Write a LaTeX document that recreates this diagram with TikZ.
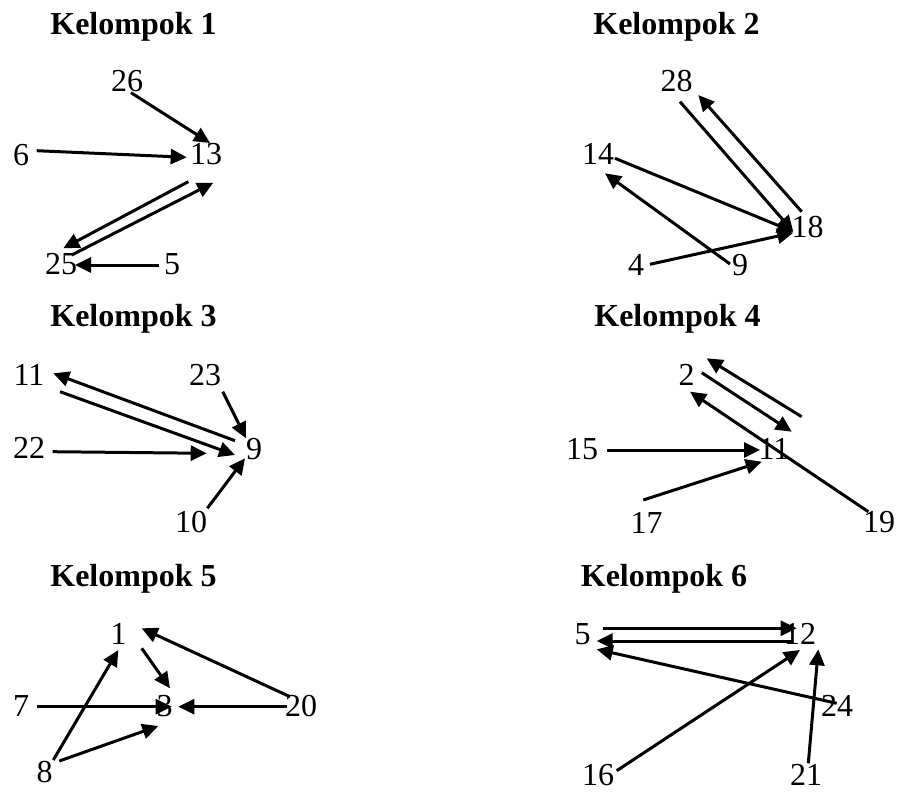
\documentclass[tikz,border=0pt]{standalone}
\usepackage{fontspec}
\setmainfont{Liberation Serif}
\usetikzlibrary{arrows.meta}
\tikzset{
  lbl/.style={inner sep=0pt, anchor=center, font=\fontsize{32}{38}\selectfont},
  ttl/.style={inner sep=0pt, anchor=base, font=\fontsize{32}{38}\selectfont\bfseries},
  arr/.style={line width=3pt, -{Triangle[length=16pt,width=15pt]}},
}
\begin{document}
\begin{tikzpicture}[x=1pt,y=-1pt]
\useasboundingbox (0,0) rectangle (897,792);
% ---------- Kelompok 1 ----------
\node[ttl] (t1) at (133.5,35) {Kelompok 1};
\node[lbl] (g1n26) at (127,81) {26};
\node[lbl] (g1n6) at (21,155) {6};
\node[lbl] (g1n13) at (206,154) {13};
\node[lbl] (g1n25) at (61,264) {25};
\node[lbl] (g1n5) at (172,264) {5};
\coordinate (g1a) at (131,92.7);  \coordinate (g1b) at (210,143);
\coordinate (g1c) at (36.7,150.7); \coordinate (g1d) at (186.7,157.3);
\coordinate (g1e) at (188.3,181.7); \coordinate (g1f) at (63.3,248.3);
\coordinate (g1g) at (71.7,255);  \coordinate (g1h) at (213.3,182.7);
\coordinate (g1i) at (159.3,265); \coordinate (g1j) at (75,265);
\draw[arr] (g1a) -- (g1b);
\draw[arr] (g1c) -- (g1d);
\draw[arr] (g1e) -- (g1f);
\draw[arr] (g1g) -- (g1h);
\draw[arr] (g1i) -- (g1j);
% ---------- Kelompok 2 ----------
\node[ttl] (t2) at (676.5,35) {Kelompok 2};
\node[lbl] (g2n28) at (676.7,81) {28};
\node[lbl] (g2n14) at (598,154) {14};
\node[lbl] (g2n18) at (807.5,227.5) {18};
\node[lbl] (g2n4) at (636,265) {4};
\node[lbl] (g2n9) at (740,265) {9};
\coordinate (g2a) at (680,101.7);   \coordinate (g2b) at (793.3,231.7);
\coordinate (g2c) at (801.7,211.7); \coordinate (g2d) at (698.3,95);
\coordinate (g2e) at (615,158.3);   \coordinate (g2f) at (793.3,231.7);
\coordinate (g2g) at (730,264);     \coordinate (g2h) at (605,173.3);
\coordinate (g2i) at (650,264.3);   \coordinate (g2j) at (793.3,232.7);
\draw[arr] (g2a) -- (g2b);
\draw[arr] (g2c) -- (g2d);
\draw[arr] (g2e) -- (g2f);
\draw[arr] (g2g) -- (g2h);
\draw[arr] (g2i) -- (g2j);
% ---------- Kelompok 3 ----------
\node[ttl] (t3) at (133.5,326.7) {Kelompok 3};
\node[lbl] (g3n11) at (29,375) {11};
\node[lbl] (g3n23) at (205,375) {23};
\node[lbl] (g3n22) at (29,448) {22};
\node[lbl] (g3n9) at (254,449) {9};
\node[lbl] (g3n10) at (191,522.5) {10};
\coordinate (g3a) at (235,440.7);   \coordinate (g3b) at (53.3,373.3);
\coordinate (g3c) at (60,391.7);    \coordinate (g3d) at (235,455);
\coordinate (g3e) at (52.7,451.7);  \coordinate (g3f) at (206.7,453.3);
\coordinate (g3g) at (222.7,391.7); \coordinate (g3h) at (246,438.3);
\coordinate (g3i) at (207.3,508.3); \coordinate (g3j) at (245,458.3);
\draw[arr] (g3a) -- (g3b);
\draw[arr] (g3c) -- (g3d);
\draw[arr] (g3e) -- (g3f);
\draw[arr] (g3g) -- (g3h);
\draw[arr] (g3i) -- (g3j);
% ---------- Kelompok 4 ----------
\node[ttl] (t4) at (677.5,326.7) {Kelompok 4};
\node[lbl] (g4n2) at (686.7,375) {2};
\node[lbl] (g4n15) at (582,449) {15};
\node[lbl] (g4n11) at (774,449) {11};
\node[lbl] (g4n17) at (646.7,522.5) {17};
\node[lbl] (g4n19) at (879,522.5) {19};
\coordinate (g4a) at (801.7,416.7); \coordinate (g4b) at (706.7,358.3);
\coordinate (g4c) at (701.7,372.7); \coordinate (g4d) at (791.7,431.7);
\coordinate (g4e) at (868.3,511.7); \coordinate (g4f) at (690,391.7);
\coordinate (g4g) at (606.7,450);   \coordinate (g4h) at (760,450);
\coordinate (g4i) at (643.3,500);   \coordinate (g4j) at (761.7,461.7);
\draw[arr] (g4a) -- (g4b);
\draw[arr] (g4c) -- (g4d);
\draw[arr] (g4e) -- (g4f);
\draw[arr] (g4g) -- (g4h);
\draw[arr] (g4i) -- (g4j);
% ---------- Kelompok 5 ----------
\node[ttl] (t5) at (133.5,586.7) {Kelompok 5};
\node[lbl] (g5n1) at (118.5,634) {1};
\node[lbl] (g5n7) at (21,706) {7};
\node[lbl] (g5n3) at (164.5,706) {3};
\node[lbl] (g5n20) at (301,706) {20};
\node[lbl] (g5n8) at (44.5,772) {8};
\coordinate (g5a) at (290,696.7);   \coordinate (g5b) at (141.7,628.3);
\coordinate (g5c) at (141.7,648.3); \coordinate (g5d) at (170,688.3);
\coordinate (g5e) at (36.7,706.7);  \coordinate (g5f) at (171.7,706.7);
\coordinate (g5g) at (286.7,706.7); \coordinate (g5h) at (178.3,706.7);
\coordinate (g5i) at (53.3,760);    \coordinate (g5j) at (118.3,650);
\coordinate (g5k) at (59.3,761);    \coordinate (g5l) at (158.3,726);
\draw[arr] (g5a) -- (g5b);
\draw[arr] (g5c) -- (g5d);
\draw[arr] (g5e) -- (g5f);
\draw[arr] (g5g) -- (g5h);
\draw[arr] (g5i) -- (g5j);
\draw[arr] (g5k) -- (g5l);
% ---------- Kelompok 6 ----------
\node[ttl] (t6) at (664,586.7) {Kelompok 6};
\node[lbl] (g6n5) at (582.5,634) {5};
\node[lbl] (g6n12) at (800,634) {12};
\node[lbl] (g6n24) at (837,706) {24};
\node[lbl] (g6n16) at (598,775) {16};
\node[lbl] (g6n21) at (806,775) {21};
\coordinate (g6a) at (603.3,628.3); \coordinate (g6b) at (796.7,628.3);
\coordinate (g6c) at (793.3,641);   \coordinate (g6d) at (596.7,641);
\coordinate (g6e) at (836.7,703.3); \coordinate (g6f) at (596.7,649.3);
\coordinate (g6g) at (616.7,770.7); \coordinate (g6h) at (800,650);
\coordinate (g6i) at (808.3,763.3); \coordinate (g6j) at (818.3,649.3);
\draw[arr] (g6a) -- (g6b);
\draw[arr] (g6c) -- (g6d);
\draw[arr] (g6e) -- (g6f);
\draw[arr] (g6g) -- (g6h);
\draw[arr] (g6i) -- (g6j);
\end{tikzpicture}
\end{document}
